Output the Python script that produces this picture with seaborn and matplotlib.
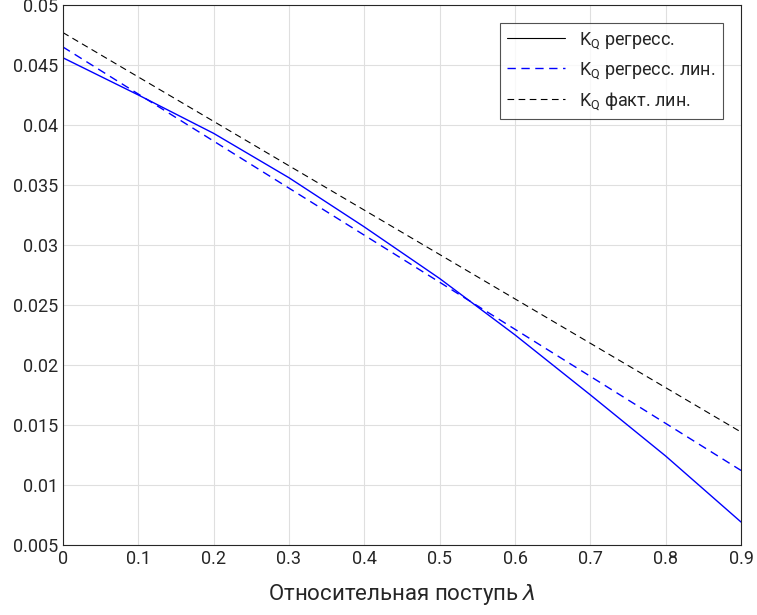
import matplotlib
matplotlib.use("Agg")
import matplotlib.pyplot as plt
import seaborn as sns
import pandas as pd
from matplotlib.lines import Line2D

lam = [0, 0.1, 0.2, 0.3, 0.4, 0.5, 0.6, 0.7, 0.8, 0.9]
kq_regr = [0.0456, 0.0425, 0.0393, 0.0356, 0.0315, 0.0272, 0.0225, 0.0175, 0.0124, 0.0069]
lin_x = [0, 0.9]
kq_regr_lin = [0.0465, 0.0112]
kq_fact_lin = [0.0477, 0.0144]
labels = ["K$_\\mathrm{Q}$ регресс.", "K$_\\mathrm{Q}$ регресс. лин.", "K$_\\mathrm{Q}$ факт. лин."]

sns.set_theme(style="whitegrid")
plt.rcParams['font.family'] = ['Roboto', 'DejaVu Sans']
plt.rcParams['mathtext.fontset'] = 'custom'
plt.rcParams['mathtext.rm'] = 'Roboto'

fig, ax = plt.subplots(figsize=(7.57, 6.15), dpi=100)
fig.subplots_adjust(left=0.083, right=0.979, top=0.992, bottom=0.114)

sns.lineplot(x=lam, y=kq_regr, ax=ax, color='blue', lw=1)
sns.lineplot(x=lin_x, y=kq_regr_lin, ax=ax, color='blue', lw=1, linestyle=(0, (6, 4)))
sns.lineplot(x=lin_x, y=kq_fact_lin, ax=ax, color='black', lw=0.8, linestyle=(0, (6, 4)))

ax.set_xlim(0, 0.9)
ax.set_ylim(0.005, 0.05)
ax.set_xticks([i/10 for i in range(10)])
ax.set_xticklabels(['0'] + [f'{i/10:g}' for i in range(1, 10)])
yt = [0.005*i for i in range(1, 11)]
ax.set_yticks(yt)
ax.set_yticklabels([f'{v:g}' for v in yt])
ax.tick_params(labelsize=13, colors='#262626', length=0)
ax.grid(True, color='#dfdfdf', lw=0.8)
for s in ax.spines.values():
    s.set_visible(True); s.set_color('#262626'); s.set_linewidth(0.8)
ax.set_xlabel("Относительная поступь $\\lambda$", fontsize=16, color='#262626', labelpad=10)
ax.set_ylabel("")

handles = [Line2D([], [], color='black', lw=0.8),
           Line2D([], [], color='blue', lw=1, linestyle=(0, (6, 4))),
           Line2D([], [], color='black', lw=0.8, linestyle=(0, (6, 4)))]
leg = ax.legend(handles, labels, loc='upper right', fontsize=13, frameon=True,
                fancybox=False, edgecolor='#262626', handlelength=3.2, borderaxespad=1.0)
leg.get_frame().set_linewidth(0.8)
fig.savefig("out.png", dpi=100, facecolor='white')
